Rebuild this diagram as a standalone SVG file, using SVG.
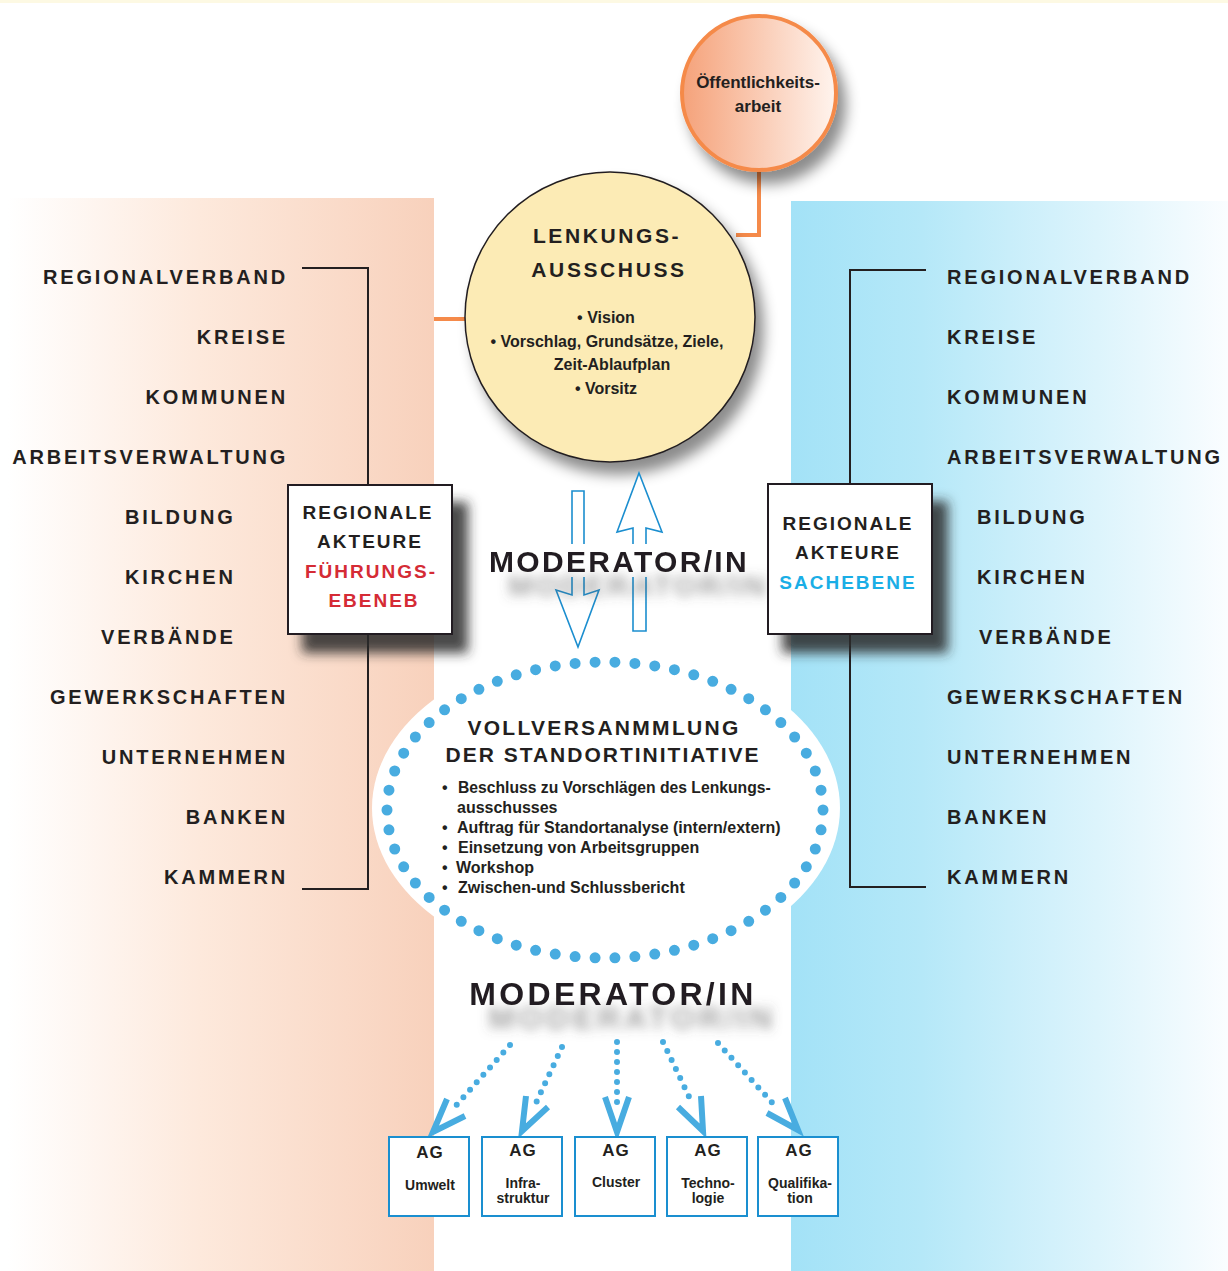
<svg xmlns="http://www.w3.org/2000/svg" width="1228" height="1271" viewBox="0 0 1228 1271">
<defs>
<linearGradient id="gl" x1="0" y1="0" x2="1" y2="0">
<stop offset="0" stop-color="#ffffff"/>
<stop offset="0.45" stop-color="#fde9dc"/>
<stop offset="1" stop-color="#f8d1bc"/>
</linearGradient>
<linearGradient id="gr" x1="0" y1="0" x2="1" y2="0">
<stop offset="0" stop-color="#a3e2f7"/>
<stop offset="0.3" stop-color="#b5e8f8"/>
<stop offset="1" stop-color="#fafdff"/>
</linearGradient>
<linearGradient id="go" x1="0" y1="0" x2="1" y2="0">
<stop offset="0" stop-color="#f5a27a"/>
<stop offset="1" stop-color="#fff4ee"/>
</linearGradient>
<filter id="cs" x="-30%" y="-30%" width="160%" height="160%">
<feDropShadow dx="8" dy="12" stdDeviation="7" flood-color="#000" flood-opacity="0.45"/>
</filter>
<filter id="bs" x="-30%" y="-30%" width="160%" height="160%">
<feDropShadow dx="15" dy="18" stdDeviation="6" flood-color="#2a2a2a" flood-opacity="0.85"/>
</filter>
<filter id="tsh" x="-10%" y="-60%" width="130%" height="280%">
<feGaussianBlur in="SourceAlpha" stdDeviation="5.5"/>
<feOffset dx="19" dy="24" result="b"/>
<feFlood flood-color="#555" flood-opacity="0.55"/>
<feComposite in2="b" operator="in"/>
<feMerge><feMergeNode/><feMergeNode in="SourceGraphic"/></feMerge>
</filter>
<style>
text{font-family:"Liberation Sans",Arial,sans-serif;font-weight:bold;fill:#231f20}
.lab{font-size:20px;letter-spacing:2.8px}
.box{font-size:19px;letter-spacing:2px;text-anchor:middle}
.bl{font-size:16px}
.mod{font-size:30px;letter-spacing:2.3px;text-anchor:middle}
.ag{font-size:17px;letter-spacing:1px;text-anchor:middle}
.ags{font-size:14px;text-anchor:middle}
.br{fill:none;stroke:#231f20;stroke-width:2}
.or{fill:none;stroke:#f58a4a;stroke-width:4}
.dl{fill:none;stroke:#48ace0;stroke-width:6;stroke-linecap:round;stroke-dasharray:0 10}
.ah{fill:none;stroke:#48ace0;stroke-width:6;stroke-linejoin:miter}
.agb{fill:#fff;stroke:#1a8fd0;stroke-width:2}
.bar{fill:#fff;stroke:#1b8ecf;stroke-width:1.6}
</style>
</defs>
<rect x="0" y="0" width="1228" height="1271" fill="#fff"/>
<rect x="0" y="0" width="1228" height="3" fill="#fdf9e3"/>
<rect x="8" y="198" width="426" height="1073" fill="url(#gl)"/>
<rect x="791" y="201" width="437" height="1070" fill="url(#gr)"/>

<g id="connectors">
<polyline class="br" points="302,268 368,268 368,490"/>
<polyline class="br" points="368,630 368,889 302,889"/>
<polyline class="br" points="926,270 850,270 850,490"/>
<polyline class="br" points="850,630 850,887 926,887"/>
<polyline class="or" points="759,172 759,235 736,235"/>
<line class="or" x1="434" y1="319" x2="468" y2="319"/>
<path class="dl" d="M510,1045 L452,1110"/>
<polyline class="ah" points="447,1099 433,1132 465,1116"/>
<path class="dl" d="M562,1047 L535,1105"/>
<polyline class="ah" points="526,1096 522,1131 548,1107"/>
<path class="dl" d="M617,1042 L617,1103"/>
<polyline class="ah" points="605,1097 617,1132 629,1097"/>
<path class="dl" d="M663,1042 L693,1105"/>
<polyline class="ah" points="678,1107 703,1131 701,1096"/>
<path class="dl" d="M718,1043 L777,1108"/>
<polyline class="ah" points="767,1113 798,1130 785,1098"/>
</g>

<g id="vollversammlung">
<ellipse cx="606" cy="808" rx="234" ry="160" fill="#fff"/>
<ellipse cx="605" cy="810" rx="218" ry="148" fill="none" stroke="#48ace0" stroke-width="11" stroke-linecap="round" stroke-dasharray="0 20" pathLength="1160"/>
<text x="604" y="735" text-anchor="middle" style="font-size:21px;letter-spacing:2.3px">VOLLVERSANMMLUNG</text>
<text x="603" y="762" text-anchor="middle" style="font-size:21px;letter-spacing:2px">DER STANDORTINITIATIVE</text>
<g class="bl">
<text x="442" y="793">•</text><text x="458" y="793" style="font-size:15.7px">Beschluss zu Vorschlägen des Lenkungs-</text>
<text x="457" y="813">ausschusses</text>
<text x="442" y="833">•</text><text x="457" y="833">Auftrag für Standortanalyse (intern/extern)</text>
<text x="442" y="853">•</text><text x="458" y="853">Einsetzung von Arbeitsgruppen</text>
<text x="442" y="873">•</text><text x="456" y="873">Workshop</text>
<text x="442" y="893">•</text><text x="458" y="893">Zwischen-und Schlussbericht</text>
</g>
</g>

<g id="lenkungsausschuss">
<circle cx="610" cy="317" r="145" fill="#fcebb5" stroke="#231f20" stroke-width="1.5" filter="url(#cs)"/>
<text x="607" y="243" text-anchor="middle" style="font-size:21px;letter-spacing:2.6px">LENKUNGS-</text>
<text x="609" y="277" text-anchor="middle" style="font-size:21px;letter-spacing:2.6px">AUSSCHUSS</text>
<g class="bl" text-anchor="middle">
<text x="606" y="323">• Vision</text>
<text x="607" y="347">• Vorschlag, Grundsätze, Ziele,</text>
<text x="612" y="370">Zeit-Ablaufplan</text>
<text x="606" y="394">• Vorsitz</text>
</g>
</g>

<g id="oeffentlichkeitsarbeit">
<circle cx="759" cy="93" r="77" fill="url(#go)" stroke="#f58a4a" stroke-width="4" filter="url(#cs)"/>
<text x="758" y="88" text-anchor="middle" style="font-size:17px">Öffentlichkeits-</text>
<text x="758" y="112" text-anchor="middle" style="font-size:17px">arbeit</text>
</g>

<g id="moderator1">
<polygon class="bar" points="572,491 584,491 584,595 599,590 578,647 556,590 572,595"/>
<polygon class="bar" points="639,473 662,532 646,528 646,631 633,631 633,528 617,532"/>
<rect x="560" y="544" width="100" height="33" fill="#fff"/>
<text class="mod" x="619" y="572" filter="url(#tsh)">MODERATOR/IN</text>
</g>

<g id="moderator2">
<text class="mod" x="613" y="1005" style="font-size:32px;letter-spacing:3.3px" filter="url(#tsh)">MODERATOR/IN</text>
</g>

<g id="left-labels" class="lab">
<text x="288" y="284" text-anchor="end">REGIONALVERBAND</text>
<text x="288" y="344" text-anchor="end">KREISE</text>
<text x="288" y="404" text-anchor="end">KOMMUNEN</text>
<text x="288" y="464" text-anchor="end">ARBEITSVERWALTUNG</text>
<text x="125" y="524">BILDUNG</text>
<text x="125" y="584">KIRCHEN</text>
<text x="101" y="644">VERBÄNDE</text>
<text x="288" y="704" text-anchor="end">GEWERKSCHAFTEN</text>
<text x="288" y="764" text-anchor="end">UNTERNEHMEN</text>
<text x="288" y="824" text-anchor="end">BANKEN</text>
<text x="288" y="884" text-anchor="end">KAMMERN</text>
</g>

<g id="right-labels" class="lab">
<text x="947" y="284">REGIONALVERBAND</text>
<text x="947" y="344">KREISE</text>
<text x="947" y="404">KOMMUNEN</text>
<text x="947" y="464">ARBEITSVERWALTUNG</text>
<text x="977" y="524">BILDUNG</text>
<text x="977" y="584">KIRCHEN</text>
<text x="979" y="644">VERBÄNDE</text>
<text x="947" y="704">GEWERKSCHAFTEN</text>
<text x="947" y="764">UNTERNEHMEN</text>
<text x="947" y="824">BANKEN</text>
<text x="947" y="884">KAMMERN</text>
</g>

<g id="box-fuehrungsebene">
<rect x="288" y="485" width="164" height="149" fill="#fff" stroke="#231f20" stroke-width="2" filter="url(#bs)"/>
<text class="box" x="368" y="519">REGIONALE</text>
<text class="box" x="370" y="548">AKTEURE</text>
<text class="box" x="371" y="578" style="fill:#d52b35">FÜHRUNGS-</text>
<text class="box" x="374" y="607" style="fill:#d52b35">EBENEB</text>
</g>

<g id="box-sachebene">
<rect x="768" y="484" width="164" height="150" fill="#fff" stroke="#231f20" stroke-width="2" filter="url(#bs)"/>
<text class="box" x="848" y="530">REGIONALE</text>
<text class="box" x="848" y="559">AKTEURE</text>
<text class="box" x="848" y="589" style="fill:#1aaee6">SACHEBENE</text>
</g>

<g id="ag-umwelt">
<rect class="agb" x="389" y="1137" width="80" height="79"/>
<text class="ag" x="430" y="1158">AG</text>
<text class="ags" x="430" y="1190">Umwelt</text>
</g>
<g id="ag-infrastruktur">
<rect class="agb" x="482" y="1137" width="80" height="79"/>
<text class="ag" x="523" y="1156">AG</text>
<text class="ags" x="523" y="1188">Infra-</text>
<text class="ags" x="523" y="1203">struktur</text>
</g>
<g id="ag-cluster">
<rect class="agb" x="575" y="1137" width="80" height="79"/>
<text class="ag" x="616" y="1156">AG</text>
<text class="ags" x="616" y="1187">Cluster</text>
</g>
<g id="ag-technologie">
<rect class="agb" x="667" y="1137" width="80" height="79"/>
<text class="ag" x="708" y="1156">AG</text>
<text class="ags" x="708" y="1188">Techno-</text>
<text class="ags" x="708" y="1203">logie</text>
</g>
<g id="ag-qualifikation">
<rect class="agb" x="758" y="1137" width="80" height="79"/>
<text class="ag" x="799" y="1156">AG</text>
<text class="ags" x="800" y="1188">Qualifika-</text>
<text class="ags" x="800" y="1203">tion</text>
</g>
</svg>
